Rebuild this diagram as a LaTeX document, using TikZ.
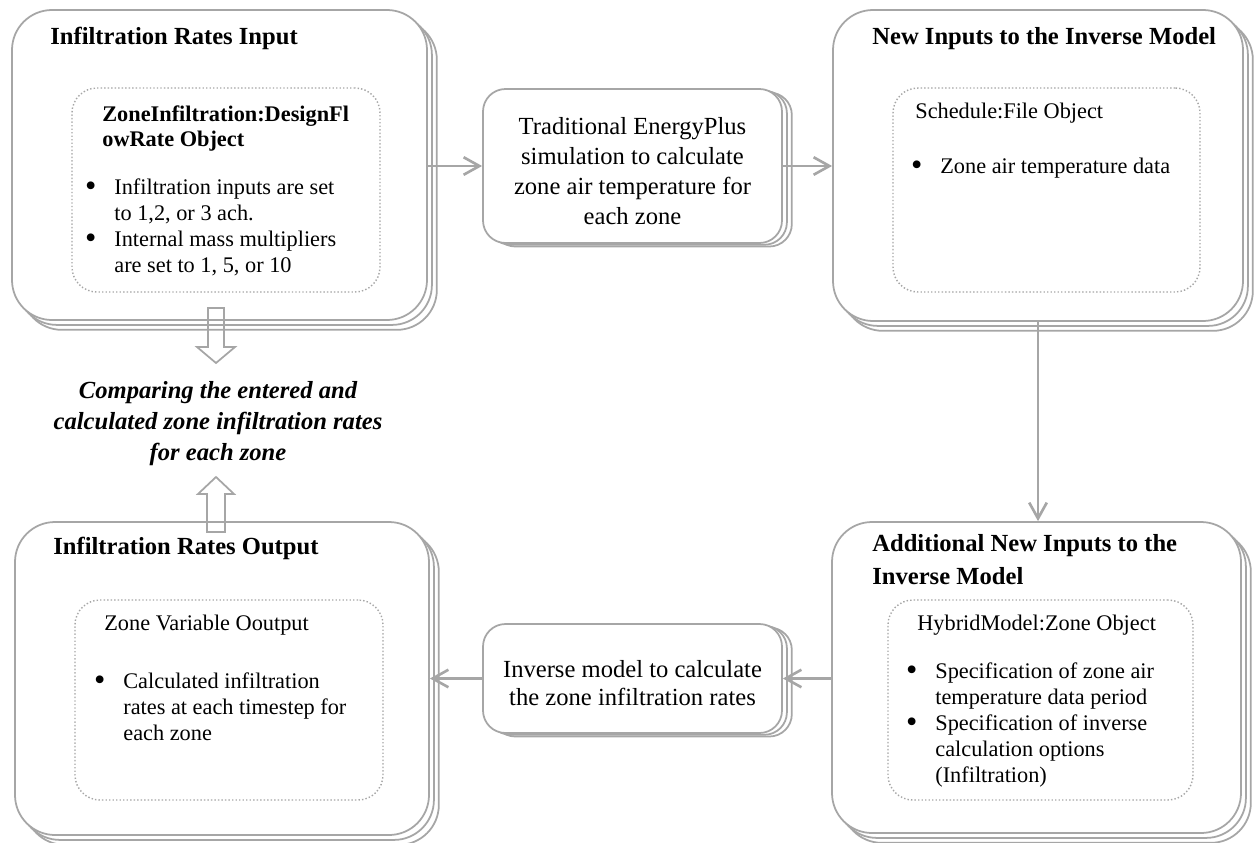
\documentclass[tikz,border=0pt]{standalone}
\usepackage{fontspec}
\usepackage{graphicx}
\setmainfont{Liberation Serif}
\usetikzlibrary{fit,shadows,arrows.meta}

\definecolor{boxgray}{RGB}{166,166,166}
\newcommand{\bul}{\llap{\raisebox{-0.12em}{\scalebox{1.45}{\textbullet}}\hspace{0.36cm}}}

\tikzset{
  stackbox/.style={draw=boxgray, line width=1pt, fill=white, rounded corners=0.8cm, inner sep=0pt,
    copy shadow={shadow xshift=5.6pt, shadow yshift=-5.6pt, draw=boxgray, fill=white, line width=1pt},
    copy shadow={shadow xshift=2.8pt, shadow yshift=-2.8pt, draw=boxgray, fill=white, line width=1pt}},
  stepbox/.style={draw=boxgray, line width=1pt, fill=white, rounded corners=0.45cm, inner sep=0pt,
    copy shadow={shadow xshift=5.6pt, shadow yshift=-2pt, draw=boxgray, fill=white, line width=1pt},
    copy shadow={shadow xshift=2.8pt, shadow yshift=-1pt, draw=boxgray, fill=white, line width=1pt}},
  steptxt/.style={font=\fontsize{14}{17}\selectfont, inner sep=0pt, align=center},
  inbox/.style={draw=boxgray, line width=0.8pt, dash pattern=on 0.8pt off 1.2pt, rounded corners=0.5cm, inner sep=0pt},
  titletxt/.style={font=\fontsize{14}{18.7}\selectfont\bfseries, inner sep=0pt, align=left},
  objhead/.style={font=\fontsize{12.7}{14.2}\selectfont, inner sep=0pt, align=left},
  listtxt/.style={font=\fontsize{12.7}{14.8}\selectfont, inner sep=0pt, align=left},
  comptxt/.style={font=\fontsize{14}{17.6}\selectfont\bfseries\itshape, inner sep=0pt, align=center},
  conn/.style={draw=boxgray, line width=1.5pt, -{Straight Barb[length=9pt,width=10pt]}},
  blockarr/.style={draw=boxgray, line width=1pt, line join=miter}
}

\begin{document}
\begin{tikzpicture}[x=0.02cm, y=-0.02cm]
  \useasboundingbox (0,0) rectangle (1254,842);
  %\draw[help lines] (0,0) grid (1254,842);

  % outer boxes
  \node[stackbox, fit={(12,10) (427,320)}] (inrate) {};
  \node[stackbox, fit={(833,10) (1243,321)}] (newin) {};
  \node[stackbox, fit={(832,522) (1241,833)}] (addin) {};
  \node[stackbox, fit={(15,522) (429,835)}] (outrate) {};

  % steps in between
  \node[stepbox, fit={(483,89) (782,243)}] (trad) {};
  \node[steptxt] (tradtxt) at ([yshift=-0.1cm]trad.center) {Traditional EnergyPlus\\simulation to calculate\\zone air temperature for\\each zone};
  \node[stepbox, fit={(483,624) (782,733)}] (inv) {};
  \node[steptxt, font=\fontsize{14}{16}\selectfont] (invtxt) at ([yshift=-0.1cm]inv.center) {Inverse model to calculate\\the zone infiltration rates};

  % titles
  \node[titletxt, anchor=base west] (t1) at (50,44) {Infiltration Rates Input};
  \node[titletxt, anchor=base west] (t2) at (872,44) {New Inputs to the Inverse Model};
  \node[titletxt, anchor=north west] (t3) at (872,534) {Additional New Inputs to the\\Inverse Model};
  \node[titletxt, anchor=base west] (t4) at (53,554) {Infiltration Rates Output};

  % objects
  \node[inbox, fit={(72,88) (380,292)}] (zinf) {};
  \node[inbox, fit={(893,88) (1200,292)}] (sched) {};
  \node[inbox, fit={(888,600) (1193,800)}] (hyb) {};
  \node[inbox, fit={(75,600) (383,800)}] (zvar) {};

  \node[objhead, font=\fontsize{12.7}{14.2}\selectfont\bfseries, anchor=north west] (h1) at (102,105) {ZoneInfiltration:DesignFl\\owRate Object};
  \node[listtxt, anchor=north west] (l1) at (114,178) {\bul Infiltration inputs are set\\to 1,2, or 3 ach.\\\bul Internal mass multipliers\\are set to 1, 5, or 10};

  \node[objhead, anchor=base west] (h2) at (915,118) {Schedule:File Object};
  \node[listtxt, anchor=base west] (l2) at (940,173) {\bul Zone air temperature data};

  \node[objhead, anchor=base west] (h3) at (917,630) {HybridModel:Zone Object};
  \node[listtxt, anchor=north west] (l3) at (935,662) {\bul Specification of zone air\\temperature data period\\\bul Specification of inverse\\calculation options\\(Infiltration)};

  \node[objhead, anchor=base west] (h4) at (104,630) {Zone Variable Ooutput};
  \node[listtxt, anchor=north west] (l4) at (123,672) {\bul Calculated infiltration\\rates at each timestep for\\each zone};

  % comparison
  \node[comptxt] (cmp) at (218,424) {Comparing the entered and\\calculated zone infiltration rates\\for each zone};
  \draw[blockarr] (208,308) -- (208,347) -- (197,347) -- (216,363) -- (235,347) -- (224,347) -- (224,308) -- cycle;
  \draw[blockarr] (207,532) -- (207,494) -- (198,494) -- (216,477) -- (234,494) -- (225,494) -- (225,532) -- cycle;

  % flow
  \draw[conn] (inrate.east |- trad.west) -- (trad.west);
  \draw[conn] (trad.east) -- (newin.west |- trad.east);
  \draw[conn] (newin.south) -- (addin.north -| newin.south);
  \draw[conn] (addin.west |- inv.east) -- (inv.east);
  \draw[conn] (inv.west) -- (outrate.east |- inv.west);
\end{tikzpicture}
\end{document}
